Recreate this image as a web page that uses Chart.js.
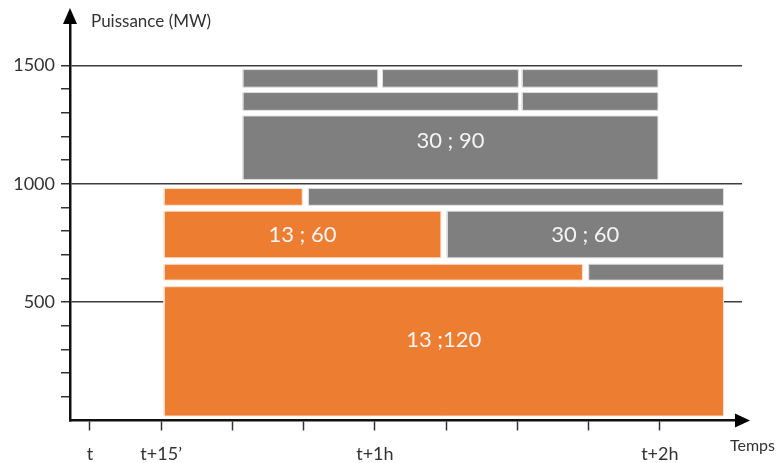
<!DOCTYPE html>
<html lang="fr">
<head>
<meta charset="utf-8">
<title>Puissance (MW)</title>
<script src="https://cdn.jsdelivr.net/npm/chart.js@4.4.1/dist/chart.umd.min.js"></script>
<style>
  html, body { margin: 0; padding: 0; background: #fff; }
  #wrap { width: 779px; height: 463px; }
</style>
</head>
<body>
<div id="wrap"><canvas id="chart" width="779" height="463"></canvas></div>
<script>
// temps en minutes apres t, puissance en MW
const blockStart = [32.2, 61.6, 91.0, 32.2, 91.0, 32.2, 15.6, 46.0, 15.6, 75.2, 15.6, 105.0, 15.6];
const blockEnd   = [60.6, 90.2, 119.6, 90.2, 119.6, 119.6, 44.7, 133.4, 73.9, 133.4, 103.7, 133.4, 133.4];
const blockLow   = [1408, 1408, 1408, 1310, 1310, 1018, 909, 909, 687, 687, 593, 593, 19];
const blockHigh  = [1482, 1482, 1482, 1385, 1385, 1286, 980, 980, 884, 884, 660, 660, 565];
const blockKind  = ['gris', 'gris', 'gris', 'gris', 'gris', 'gris', 'orange', 'gris', 'orange', 'gris', 'orange', 'gris', 'orange'];
const blockLabels = ['', '', '', '', '', '30 ; 90', '', '', '13 ; 60', '30 ; 60', '', '', '13 ;120'];

const timeTicks = [0, 15, 30, 45, 60, 75, 90, 105, 120];
const timeLabelValues = [0, 15, 60, 120];
const timeLabels = ['t', 't+15\u2019', 't+1h', 't+2h'];

const powerTicks = [100, 200, 300, 400, 500, 600, 700, 800, 900, 1000, 1100, 1200, 1300, 1400, 1500];
const powerLabelValues = [500, 1000, 1500];
const powerLabels = ['500', '1000', '1500'];

const fillColors = { orange: '#ED7D31', gris: '#7F7F7F' };
const edgeColors = { orange: 'rgba(255,230,215,0.9)', gris: 'rgba(225,225,225,0.9)' };
const labelOffsets = [0, 0, 0, 0, 0, -7, 0, 0, 0, 0, 0, 0, -11];

const datasets = blockStart.map((x0, i) => ({
    data: [
        { x: x0, y: blockLow[i] },
        { x: blockEnd[i], y: blockLow[i] },
        { x: blockEnd[i], y: blockHigh[i] },
        { x: x0, y: blockHigh[i] },
        { x: x0, y: blockLow[i] }
    ],
    showLine: true,
    fill: 'shape',
    tension: 0,
    pointRadius: 0,
    borderWidth: 1,
    borderColor: edgeColors[blockKind[i]],
    backgroundColor: fillColors[blockKind[i]]
}));

const diagramExtras = {
    id: 'diagramExtras',
    afterDraw(chart) {
        const ctx = chart.ctx;
        const area = chart.chartArea;
        const xs = chart.scales.x;
        const ys = chart.scales.y;

        // textes dans les blocs
        ctx.save();
        ctx.fillStyle = '#f4f4f4';
        ctx.font = '22px Lato';
        ctx.textAlign = 'center';
        ctx.textBaseline = 'middle';
        blockLabels.forEach((txt, i) => {
            if (!txt) return;
            const cx = (xs.getPixelForValue(blockStart[i]) + xs.getPixelForValue(blockEnd[i])) / 2;
            const cy = (ys.getPixelForValue(blockLow[i]) + ys.getPixelForValue(blockHigh[i])) / 2;
            ctx.fillText(txt, cx, cy + labelOffsets[i]);
        });
        ctx.restore();

        // fleches des axes
        ctx.save();
        ctx.fillStyle = '#000';
        const ax = area.left;
        ctx.beginPath();
        ctx.moveTo(ax, area.top - 10);
        ctx.lineTo(ax - 7, area.top + 6);
        ctx.lineTo(ax + 7, area.top + 6);
        ctx.closePath();
        ctx.fill();
        const ay = area.bottom;
        ctx.beginPath();
        ctx.moveTo(area.right + 8, ay);
        ctx.lineTo(area.right - 7, ay - 7);
        ctx.lineTo(area.right - 7, ay + 7);
        ctx.closePath();
        ctx.fill();

        // noms des axes
        ctx.fillStyle = '#333';
        ctx.font = '17px Lato';
        ctx.textAlign = 'left';
        ctx.textBaseline = 'middle';
        ctx.fillText('Puissance (MW)', area.left + 21, 22);
        ctx.font = '16px Lato';
        ctx.fillText('Temps', 730, 446);
        ctx.restore();
    }
};

window.onload = function () {
    const ctx = document.getElementById('chart').getContext('2d');
    new Chart(ctx, {
        type: 'scatter',
        data: { datasets: datasets },
        options: {
            responsive: false,
            animation: false,
            layout: { padding: { left: 0, right: 37, top: 18, bottom: 0 } },
            plugins: {
                legend: { display: false },
                tooltip: { enabled: false }
            },
            scales: {
                x: {
                    type: 'linear',
                    min: -4.2,
                    max: 137.3,
                    afterFit: s => { s.height = 42.5; },
                    afterBuildTicks: s => { s.ticks = timeTicks.map(v => ({ value: v })); },
                    border: { display: true, color: '#111', width: 2.5 },
                    grid: { drawOnChartArea: false, tickColor: '#333', tickLength: 10, tickWidth: 1.5 },
                    ticks: {
                        autoSkip: false,
                        maxRotation: 0,
                        padding: 13,
                        color: '#333',
                        font: { family: 'Lato', size: 18 },
                        callback: v => {
                            const k = timeLabelValues.indexOf(v);
                            return k >= 0 ? timeLabels[k] : '';
                        }
                    }
                },
                y: {
                    type: 'linear',
                    min: 0,
                    max: 1700,
                    z: 1,
                    afterFit: s => { s.width = 70; },
                    afterBuildTicks: s => { s.ticks = powerTicks.map(v => ({ value: v })); },
                    border: { display: true, color: '#111', width: 2.5 },
                    grid: {
                        color: c => (c.tick && powerLabelValues.includes(c.tick.value)) ? '#3d3d3d' : 'rgba(0,0,0,0)',
                        lineWidth: 1.5,
                        tickColor: '#333',
                        tickLength: 9,
                        tickWidth: 1.5
                    },
                    ticks: {
                        autoSkip: false,
                        padding: 6,
                        color: '#333',
                        font: { family: 'Lato', size: 18 },
                        callback: v => {
                            const k = powerLabelValues.indexOf(v);
                            return k >= 0 ? powerLabels[k] : '';
                        }
                    }
                }
            }
        },
        plugins: [diagramExtras]
    });
};
</script>
</body>
</html>
